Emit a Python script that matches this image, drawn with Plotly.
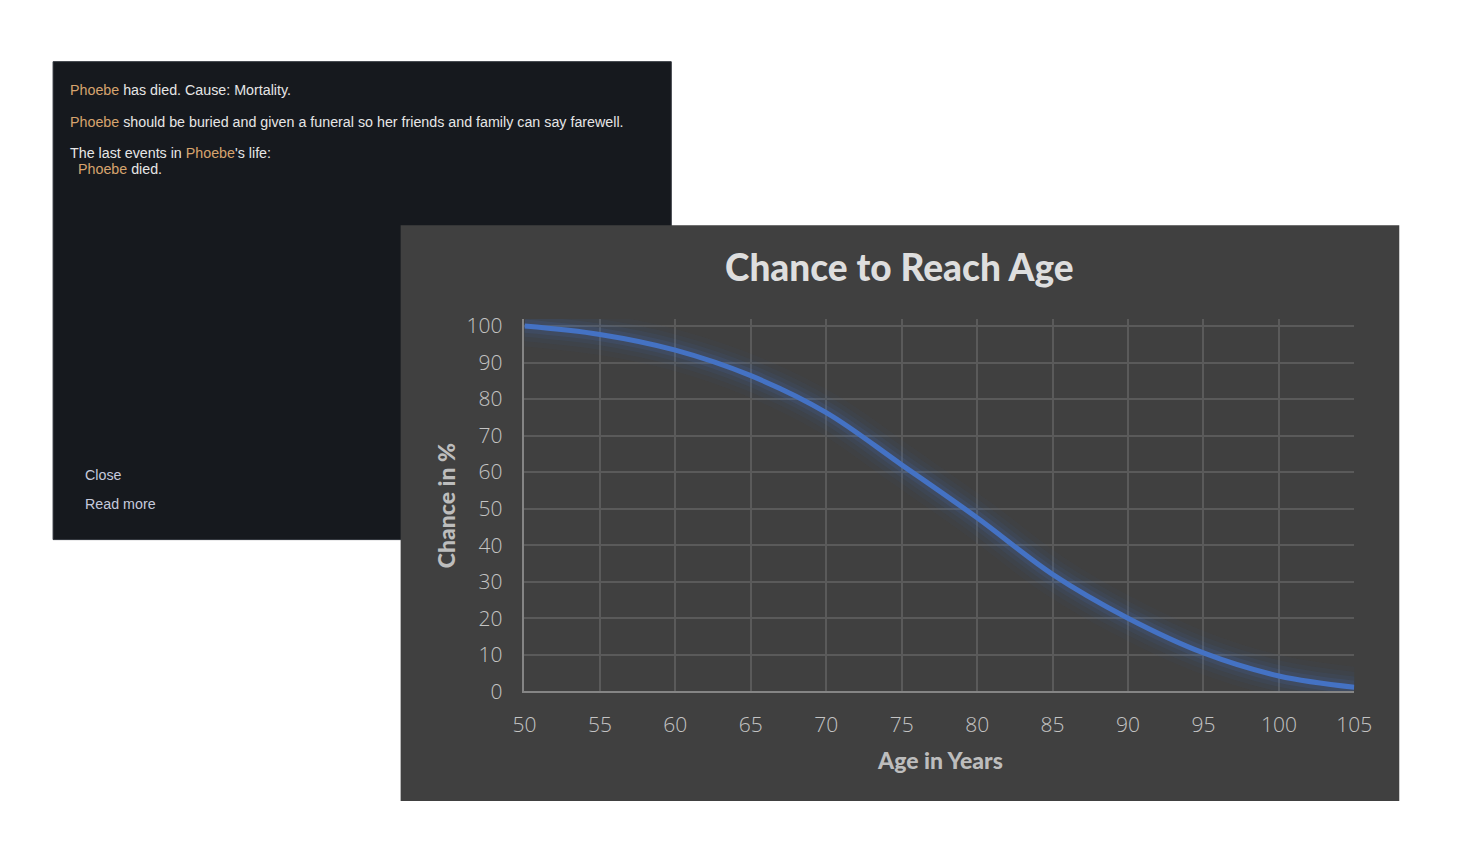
import plotly.graph_objects as go

# ---- data ----
ages = [50, 55, 60, 65, 70, 75, 80, 85, 90, 95, 100, 105]
chance = [100, 97.7, 93.4, 86.4, 76.3, 62.0, 47.5, 32.0, 20.0, 10.5, 4.2, 1.1]
x_ticks = [50, 55, 60, 65, 70, 75, 80, 85, 90, 95, 100, 105]
y_ticks = [0, 10, 20, 30, 40, 50, 60, 70, 80, 90, 100]

chart_title = "Chance to Reach Age"
x_title = "Age in Years"
y_title = "Chance in %"

name = "Phoebe"
dialog_lines = [
    (f"<span style='color:#d6a46e'>{name}</span> has died. Cause: Mortality.", 67, 88),
    (f"<span style='color:#d6a46e'>{name}</span> should be buried and given a funeral so her friends and family can say farewell.", 67, 120),
    (f"The last events in <span style='color:#d6a46e'>{name}</span>'s life:", 67, 152),
    (f"<span style='color:#d6a46e'>{name}</span> died.", 75, 168),
]
dialog_links = [("Close", 82, 474), ("Read more", 82, 503)]

# layout mapping from target pixel positions to figure coordinates
AX, BX = 0.9807, 18.85
AY, BY = 0.977, 14.2
W, H = 1454, 832
def px(x): return ((x - BX) / AX) / W
def py(y): return 1 - ((y - BY) / AY) / H
S = 1 / AX  # size factor

fig = go.Figure()

# glow layers
for w, a in [(40, 0.035), (30, 0.05), (21, 0.08), (13, 0.13)]:
    fig.add_trace(go.Scatter(x=ages, y=chance, mode="lines",
                             line=dict(color=f"rgba(68,114,196,{a})", width=w * S, shape="spline", smoothing=1.0),
                             hoverinfo="skip", showlegend=False))
fig.add_trace(go.Scatter(x=ages, y=chance, mode="lines",
                         line=dict(color="#4472c4", width=5 * S, shape="spline", smoothing=1.0),
                         showlegend=False))

shapes = [
    dict(type="rect", xref="paper", yref="paper", x0=px(52), x1=px(671), y0=py(539), y1=py(60),
         fillcolor="#16191e", line=dict(color="#2c3038", width=1), layer="below"),
    dict(type="rect", xref="paper", yref="paper", x0=px(400), x1=px(1400), y0=py(801), y1=py(224),
         fillcolor="#404040", line=dict(width=0), layer="below"),
]

annotations = []
for txt, x, y in dialog_lines:
    annotations.append(dict(text=txt, x=px(x), y=py(y), xref="paper", yref="paper",
                            xanchor="left", yanchor="middle", showarrow=False,
                            font=dict(family="Liberation Sans, Arial", size=14 * S, color="#e6e6e6")))
for txt, x, y in dialog_links:
    annotations.append(dict(text=txt, x=px(x), y=py(y), xref="paper", yref="paper",
                            xanchor="left", yanchor="middle", showarrow=False,
                            font=dict(family="Liberation Sans, Arial", size=14 * S, color="#c5c9dc")))

annotations.append(dict(text=chart_title, x=px(900), y=py(265), xref="paper", yref="paper",
                        xanchor="center", yanchor="middle", showarrow=False,
                        font=dict(family="Lato", size=37, color="#dedede", weight=900)))
annotations.append(dict(text=x_title, x=px(940), y=py(760), xref="paper", yref="paper",
                        xanchor="center", yanchor="middle", showarrow=False,
                        font=dict(family="Lato", size=23, color="#bdbdbd", weight=900)))
annotations.append(dict(text=y_title, x=px(445), y=py(505), xref="paper", yref="paper",
                        xanchor="center", yanchor="middle", showarrow=False, textangle=-90,
                        font=dict(family="Lato", size=23, color="#bdbdbd", weight=900)))

fig.update_layout(
    width=W, height=H,
    margin=dict(l=0, r=0, t=0, b=0),
    paper_bgcolor="white",
    plot_bgcolor="rgba(0,0,0,0)",
    shapes=shapes,
    annotations=annotations,
    xaxis=dict(domain=[px(524), px(1355)], range=[50, 105], tickvals=x_ticks,
               showgrid=True, gridcolor="#5a5a5a", gridwidth=1.5,
               showline=True, linecolor="#858585", linewidth=1.5,
               zeroline=False, ticks="", ticklabelstandoff=14,
               tickfont=dict(family="Open Sans", size=21, color="#c4c4c4", weight=300)),
    yaxis=dict(domain=[py(691), py(318)], range=[0, 101.9], tickvals=y_ticks,
               showgrid=True, gridcolor="#5a5a5a", gridwidth=1.5,
               showline=True, linecolor="#858585", linewidth=1.5,
               zeroline=False, ticks="", ticklabelstandoff=16,
               tickfont=dict(family="Open Sans", size=21, color="#c4c4c4", weight=300)),
)

fig.write_html("out.html")
